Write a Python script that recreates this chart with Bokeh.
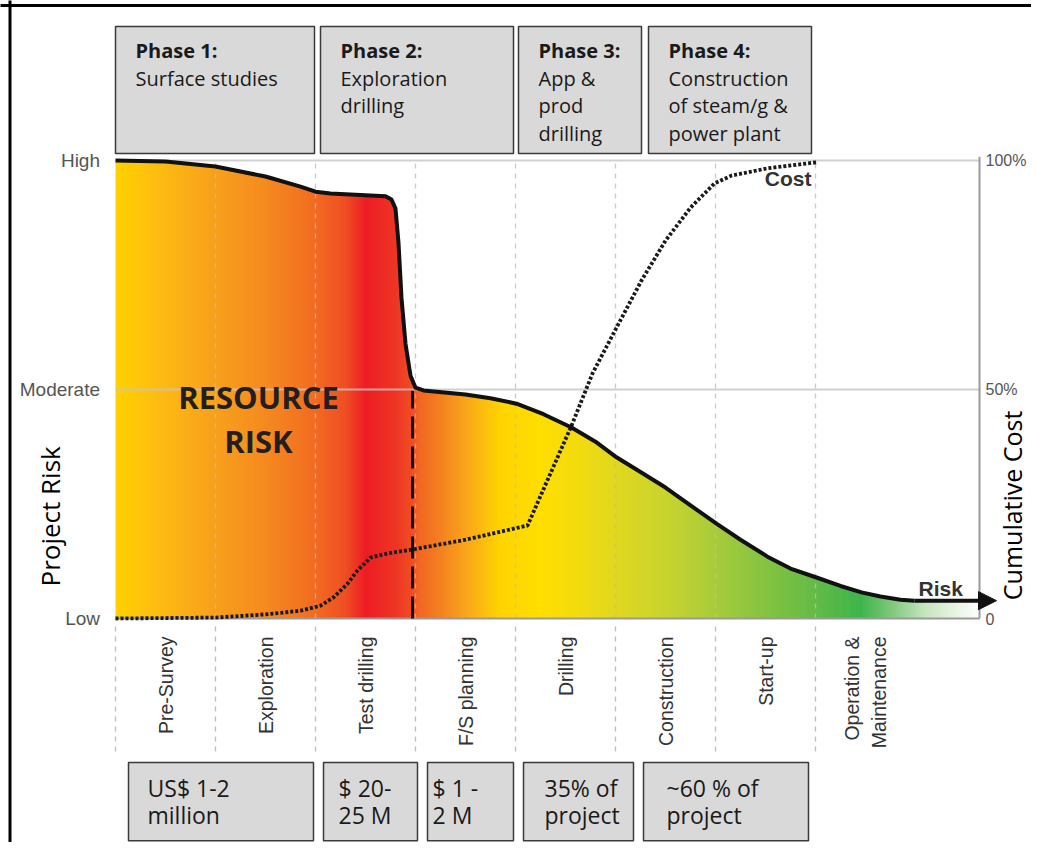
import numpy as np
from bokeh.plotting import figure
from bokeh.models import Range1d, Arrow, NormalHead
from bokeh.core.properties import value
from bokeh.embed import file_html
from bokeh.resources import INLINE

# ---------------- data ----------------
stages = ["Pre-Survey", "Exploration", "Test drilling", "F/S planning",
          "Drilling", "Construction", "Start-up", "Operation &\nMaintenance"]
stage_centers = [0.5, 1.5, 2.5, 3.5, 4.5, 5.5, 6.5, 7.5]
stage_bounds = [0, 1, 2, 3, 4, 5, 6, 7]

# project risk (0 = Low, 50 = Moderate, 100 = High) along the stages
risk_x = [0.0, 0.5, 1.0, 1.5, 1.85, 2.0, 2.15, 2.7, 2.76, 2.80, 2.83, 2.86,
          2.90, 2.95, 3.0, 3.08, 3.5, 3.75, 4.01, 4.28, 4.56, 4.8, 5.01, 5.25,
          5.5, 5.75, 6.01, 6.25, 6.52, 6.75, 7.01, 7.25, 7.46, 7.65, 7.85, 7.99]
risk_y = [100.0, 99.8, 98.7, 96.5, 94.3, 93.2, 92.8, 92.2, 91.5, 89.5, 82.0,
          70.0, 60.0, 53.0, 50.4, 49.8, 48.9, 48.1, 46.9, 44.6, 41.7, 38.6,
          35.2, 32.0, 28.6, 24.7, 20.7, 17.2, 13.5, 10.9, 8.95, 7.1, 5.7, 4.8,
          4.1, 3.9]
risk_arrow_end = 8.81

# cumulative cost (% of total)
cost_x = [0.0, 1.0, 1.5, 1.85, 2.05, 2.18, 2.32, 2.42, 2.55, 2.72, 2.98, 3.5,
          4.12, 4.56, 4.77, 5.01, 5.26, 5.5, 5.75, 5.99, 6.16, 6.52, 7.01]
cost_y = [0.0, 0.2, 0.9, 1.7, 2.8, 4.6, 7.6, 10.5, 13.3, 14.2, 15.1, 17.2,
          20.3, 42.1, 53.5, 63.5, 73.8, 82.5, 89.7, 95.0, 96.7, 98.3, 99.6]

risk_tick_values = [0, 50, 100]
risk_tick_labels = ["Low", "Moderate", "High"]
cost_tick_values = [0, 50, 100]
cost_tick_labels = ["0", "50%", "100%"]

phase_titles = ["Phase 1:", "Phase 2:", "Phase 3:", "Phase 4:"]
phase_lines = [["Surface studies"],
               ["Exploration", "drilling"],
               ["App &", "prod", "drilling"],
               ["Construction", "of steam/g &", "power plant"]]
phase_left = [0.0, 2.05, 4.03, 5.33]
phase_right = [1.99, 3.98, 5.26, 6.96]

budget_lines = [["US$ 1-2", "million"], ["$ 20-", "25 M"], ["$ 1 -", "2 M"],
                ["35% of", "project"], ["~60 % of", "project"]]
budget_left = [0.13, 2.08, 3.12, 4.08, 5.28]
budget_right = [1.98, 3.02, 3.98, 5.18, 6.93]
budget_text_x = [0.32, 2.23, 3.17, 4.29, 5.51]

# ---------------- style ----------------
grad_stops = [(0.00, "#FFD200"), (0.50, "#FDB813"), (1.00, "#F8A01C"),
              (1.50, "#F58A1F"), (2.00, "#F26B21"), (2.30, "#EF4E23"),
              (2.50, "#ED1C24"), (2.80, "#EE3524"), (2.97, "#F04E23"),
              (3.03, "#F26522"), (3.25, "#F48120"), (3.50, "#F9A51A"),
              (3.85, "#FFD400"), (4.25, "#FFDE00"), (4.60, "#F3DC0E"),
              (5.00, "#E0D81E"), (5.50, "#C9D42E"), (6.00, "#A8CB3A"),
              (6.50, "#84C341"), (7.00, "#63BB46"), (7.45, "#3DB54A"),
              (7.75, "#7CC77A"), (8.10, "#C8E6C0"), (8.64, "#FFFFFF")]

SANS = value("Liberation Sans")
BODY = value("Open Sans")

p = figure(width=1031, height=842, x_range=Range1d(-1.15, 9.16),
           y_range=Range1d(-48.908, 134.934), output_backend="svg",
           toolbar_location=None, min_border=0, x_axis_location=None,
           y_axis_location=None, outline_line_color=None, title=None)
p.background_fill_color = "white"
p.border_fill_color = "white"
p.grid.visible = False

# outer frame (left and top edges)
p.line([-1.055, -1.055], [-50, 136], line_color="black", line_width=3)
p.line([-1.2, 9.4], [133.84, 133.84], line_color="black", line_width=3)

# gradient fill under the risk curve
def hex2rgb(h):
    return [int(h[i:i + 2], 16) for i in (1, 3, 5)]

sx = np.array([s[0] for s in grad_stops])
sc = np.array([hex2rgb(s[1]) for s in grad_stops], dtype=float)
edges = np.linspace(0, 8.64, 433)
mids = (edges[:-1] + edges[1:]) / 2
cols = ["#%02x%02x%02x" % tuple(int(round(np.interp(m, sx, sc[:, k]))) for k in range(3))
        for m in mids]
p.quad(left=edges[:-1], right=edges[1:] + 0.01, bottom=0, top=100,
       fill_color=cols, line_color=None)
# white mask above the curve
p.varea(x=risk_x + [risk_arrow_end], y1=risk_y + [risk_y[-1]], y2=100.6,
        fill_color="white")

# grid lines
p.segment(x0=[0, 0], y0=[100, 50], x1=[8.64, 8.64], y1=[100, 50],
          line_color="#c4c4c4", line_width=2, line_alpha=0.8)
p.segment(x0=stage_bounds[1:], y0=0, x1=stage_bounds[1:], y1=100,
          line_color="#bdbdbd", line_width=1.3, line_dash="5 5", line_alpha=0.8)
p.segment(x0=stage_bounds, y0=-1.75, x1=stage_bounds, y1=-29.3,
          line_color="#bdbdbd", line_width=1.3, line_dash="5 5")

# axes lines
p.line([0, 8.64], [0, 0], line_color="#9a9a9a", line_width=2)
p.line([8.64, 8.64], [0, 100.8], line_color="#9a9a9a", line_width=2)

# cost line (dotted)
p.line(cost_x, cost_y, line_color="#1a1a1a", line_width=3.8, line_dash="3 2")

# risk line with arrow
p.line(risk_x, risk_y, line_color="#111111", line_width=4, line_join="round")
p.add_layout(Arrow(end=NormalHead(size=18, fill_color="#111111", line_color="#111111"),
                   x_start=risk_x[-1], y_start=risk_y[-1], x_end=risk_arrow_end,
                   y_end=risk_y[-1], line_width=4, line_color="#111111"))

# milestone dashed line
p.segment(x0=[2.97], y0=[0], x1=[2.97], y1=[49.7], line_color="#111111",
          line_width=3, line_dash="22 8")

# tick labels
p.text(x=[-0.155] * 3, y=risk_tick_values, text=risk_tick_labels, text_font=SANS,
       text_font_size="19px", text_color="#555555", text_align="right",
       text_baseline="middle")
p.text(x=[8.70] * 3, y=cost_tick_values, text=cost_tick_labels, text_font=SANS,
       text_font_size="16px", text_color="#555555", text_align="left",
       text_baseline="middle")
p.text(x=stage_centers, y=[-3.93] * len(stages), text=stages, text_font=SANS,
       text_font_size="19.5px", text_color="#333333", text_align="right",
       text_baseline="middle", angle=np.pi / 2)

# axis titles
p.text(x=[-0.66], y=[22.3], text=["Project Risk"], text_font=BODY,
       text_font_size="26px", text_color="black", text_align="center",
       text_baseline="middle", angle=np.pi / 2)
p.text(x=[8.96], y=[24.7], text=["Cumulative Cost"], text_font=BODY,
       text_font_size="25px", text_color="black", text_align="center",
       text_baseline="middle", angle=np.pi / 2)

# series labels
p.text(x=[6.96], y=[96.07], text=["Cost"], text_font=SANS, text_font_size="21px",
       text_font_style="bold", text_color="#333333", text_align="right",
       text_baseline="middle")
p.text(x=[8.03], y=[6.55], text=["Risk"], text_font=SANS, text_font_size="21px",
       text_font_style="bold", text_color="#333333", text_align="left",
       text_baseline="middle")
p.text(x=[1.43, 1.43], y=[48.47, 38.76], text=["RESOURCE", "RISK"], text_font=BODY,
       text_font_size="31px", text_font_style="bold", text_color="#231F20",
       text_align="center", text_baseline="middle")

# phase boxes (top)
p.quad(left=phase_left, right=phase_right, bottom=101.53, top=129.26,
       fill_color="#D9D9D9", line_color="#3a3a3a", line_width=1.5)
top_mid = [124.02, 118.01, 112.01, 106.0]
p.text(x=[l + 0.2 for l in phase_left], y=[top_mid[0]] * 4, text=phase_titles,
       text_font=BODY, text_font_size="20px", text_font_style="bold",
       text_color="#1a1a1a", text_align="left", text_baseline="middle")
tx, ty, tt = [], [], []
for l, lines in zip(phase_left, phase_lines):
    for i, s in enumerate(lines):
        tx.append(l + 0.2)
        ty.append(top_mid[i + 1])
        tt.append(s)
p.text(x=tx, y=ty, text=tt, text_font=BODY, text_font_size="20px",
       text_color="#1a1a1a", text_align="left", text_baseline="middle")

# budget boxes (bottom)
p.quad(left=budget_left, right=budget_right, bottom=-48.55, top=-31.44,
       fill_color="#D9D9D9", line_color="#3a3a3a", line_width=1.5)
bx, by, bt = [], [], []
for x0, lines in zip(budget_text_x, budget_lines):
    for yb, s in zip([-36.9, -43.01], lines):
        bx.append(x0)
        by.append(yb)
        bt.append(s)
p.text(x=bx, y=by, text=bt, text_font=BODY, text_font_size="23px",
       text_color="#1a1a1a", text_align="left", text_baseline="middle")

open("out.html", "w").write(file_html(p, INLINE))
